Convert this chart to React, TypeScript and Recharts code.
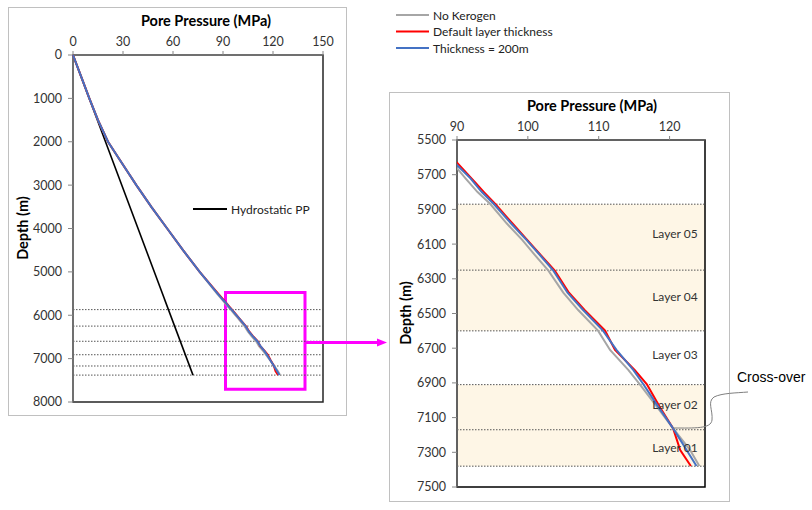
import React from 'react';
import { ScatterChart, Scatter, XAxis, YAxis, ReferenceLine, ReferenceArea, ReferenceDot } from 'recharts';

// shallow part of the pore pressure profile, same for the three cases (depth m / MPa)
const shallowDepth = [0, 500, 1000, 1500, 2000, 2500, 3000, 3500, 4000, 4500, 5000];
const shallowPP = [0, 4.9, 9.8, 15, 21, 29.5, 38, 47, 56.5, 66, 76];

const noKerogenDepth = [5500, 5663, 5721, 5800, 5869, 5980, 6076, 6163, 6253, 6380, 6480, 6599, 6710, 6826, 6908, 7037, 7162, 7287, 7379];
const noKerogenPP = [86.4, 90.0, 91.2, 92.9, 94.7, 97.0, 99.2, 101.0, 102.9, 105.0, 107.1, 109.9, 111.6, 114.2, 115.8, 118.2, 120.5, 122.9, 124.2];

const defaultDepth = [5500, 5631, 5746, 5800, 5869, 5980, 6076, 6163, 6253, 6380, 6480, 6599, 6710, 6826, 6908, 7037, 7162, 7287, 7379];
const defaultPP = [87.1, 90.0, 92.6, 93.8, 95.4, 97.8, 99.9, 101.8, 103.8, 105.8, 108.0, 110.9, 112.3, 115.1, 116.8, 118.6, 120.5, 121.5, 123.0];

const thick200Depth = [5500, 5644, 5721, 5800, 5869, 5980, 6076, 6163, 6253, 6380, 6480, 6599, 6710, 6826, 6908, 7037, 7162, 7287, 7379];
const thick200PP = [86.8, 90.0, 91.9, 93.5, 95.2, 97.6, 99.8, 101.7, 103.6, 105.6, 107.8, 110.6, 112.5, 114.9, 116.3, 118.4, 120.5, 122.4, 123.8];

const hydroDepth = [0, 7380];
const hydroPP = [0, 72];

// layer boundaries and shaded (kerogen) layers
const layerBounds = [5870, 6250, 6600, 6910, 7170, 7380];
const shadedTop = [5870, 6910];
const shadedBase = [6600, 7380];
const layerNames = ['Layer 05', 'Layer 04', 'Layer 03', 'Layer 02', 'Layer 01'];
const layerLabelDepth = [6040, 6405, 6740, 7027, 7273];

const leftPPTicks = [0, 30, 60, 90, 120, 150];
const leftDepthTicks = [0, 1000, 2000, 3000, 4000, 5000, 6000, 7000, 8000];
const rightPPTicks = [90, 100, 110, 120];
const rightDepthTicks = [5500, 5700, 5900, 6100, 6300, 6500, 6700, 6900, 7100, 7300, 7500];

const FONT = 'Lato, "Open Sans", sans-serif';
const GRAY = '#A6A6A6';
const RED = '#FF0000';
const BLUE = '#4472C4';

const pts = (d: number[], p: number[]) => d.map((v, i) => ({ d: v, p: p[i] }));
const full = (d: number[], p: number[]) => pts([...shallowDepth, ...d], [...shallowPP, ...p]);

const noKerogen = full(noKerogenDepth, noKerogenPP);
const defaultLayer = full(defaultDepth, defaultPP);
const thick200 = full(thick200Depth, thick200PP);
const hydro = pts(hydroDepth, hydroPP);

const noShape = () => <g />;
const tickStyle = { fill: '#333', fontSize: 12.5, fontFamily: FONT };

const series = [
  { name: 'No Kerogen', data: noKerogen, color: GRAY },
  { name: 'Default layer thickness', data: defaultLayer, color: RED },
  { name: 'Thickness = 200m', data: thick200, color: BLUE },
];

const dotted = (d: number) => (
  <ReferenceLine key={'l' + d} y={d} stroke="#555" strokeWidth={1} strokeDasharray="1.5 1.5" />
);

function LeftChart() {
  return (
    <ScatterChart width={340} height={410} margin={{ top: 23, right: 25, bottom: 15, left: 15 }}>
      <XAxis type="number" dataKey="p" orientation="top" domain={[0, 150]} ticks={leftPPTicks}
        height={25} tickSize={4} tickMargin={5} stroke="#868686" tick={tickStyle} />
      <YAxis type="number" dataKey="d" reversed domain={[0, 8000]} ticks={leftDepthTicks}
        width={50} tickSize={5} tickMargin={6} stroke="#868686" tick={tickStyle} />
      {layerBounds.map(dotted)}
      <Scatter data={hydro} line={{ stroke: '#000', strokeWidth: 1.6 }} shape={noShape} isAnimationActive={false} />
      {series.map((s) => (
        <Scatter key={s.name} data={s.data} line={{ stroke: s.color, strokeWidth: 2 }} shape={noShape} isAnimationActive={false} />
      ))}
      <ReferenceArea x1={91.5} x2={139.2} y1={5475} y2={7705} fill="none" stroke="#FF00FF" strokeWidth={3} />
      <ReferenceArea x1={0} x2={150} y1={0} y2={8000} fill="none" stroke="#262626" strokeWidth={1.5} />
    </ScatterChart>
  );
}

function RightChart() {
  return (
    <ScatterChart width={342} height={411} margin={{ top: 23, right: 26, bottom: 16, left: 18 }}>
      <XAxis type="number" dataKey="p" orientation="top" domain={[90, 125]} ticks={rightPPTicks} allowDataOverflow
        height={25} tickSize={4} tickMargin={5} stroke="#868686" tick={tickStyle} />
      <YAxis type="number" dataKey="d" reversed domain={[5500, 7500]} ticks={rightDepthTicks} allowDataOverflow
        width={50} tickSize={5} tickMargin={6} stroke="#868686" tick={tickStyle} />
      {shadedTop.map((t, i) => (
        <ReferenceArea key={'a' + i} y1={t} y2={shadedBase[i]} x1={90} x2={125} fill="#FEF6E6" fillOpacity={1} stroke="none" />
      ))}
      {layerBounds.map(dotted)}
      {layerNames.map((n, i) => (
        <ReferenceDot key={n} x={120.75} y={layerLabelDepth[i]} r={0} fill="none" stroke="none"
          label={{ value: n, position: 'center', fill: '#333', fontSize: 12, fontFamily: FONT }} />
      ))}
      {series.map((s) => (
        <Scatter key={s.name} data={s.data} line={{ stroke: s.color, strokeWidth: 2 }} shape={noShape} isAnimationActive={false} />
      ))}
      <ReferenceArea x1={90} x2={125} y1={5500} y2={7500} fill="none" stroke="#000" strokeWidth={1.5} />
    </ScatterChart>
  );
}

export default function App() {
  return (
    <div style={{ position: 'absolute', left: 0, top: 0, width: 812, height: 510, background: '#fff', fontFamily: FONT }}>
      <div style={{ position: 'absolute', left: 8, top: 7, width: 339, height: 409, border: '1px solid #C0C0C0', boxSizing: 'border-box' }} />
      <div style={{ position: 'absolute', left: 389, top: 92, width: 341, height: 410, border: '1px solid #C0C0C0', boxSizing: 'border-box' }} />
      <div style={{ position: 'absolute', left: 8, top: 7 }}>
        <LeftChart />
      </div>
      <div style={{ position: 'absolute', left: 389, top: 92 }}>
        <RightChart />
      </div>
      <svg width={812} height={510} style={{ position: 'absolute', left: 0, top: 0, pointerEvents: 'none' }}>
        <g fontFamily={FONT} fill="#000">
          <text x={206} y={20} textAnchor="middle" dominantBaseline="central" fontSize={14.5} fontWeight="bold">Pore Pressure (MPa)</text>
          <text x={592} y={105} textAnchor="middle" dominantBaseline="central" fontSize={14.5} fontWeight="bold">Pore Pressure (MPa)</text>
          <text transform="translate(22,228) rotate(-90)" textAnchor="middle" dominantBaseline="central" fontSize={14.5} fontWeight="bold">Depth (m)</text>
          <text transform="translate(405,313) rotate(-90)" textAnchor="middle" dominantBaseline="central" fontSize={14.5} fontWeight="bold">Depth (m)</text>
        </g>
        {series.map((s, i) => (
          <g key={s.name}>
            <line x1={396} x2={429} y1={15 + i * 16.5} y2={15 + i * 16.5} stroke={s.color} strokeWidth={2} />
            <text x={433} y={15 + i * 16.5} dominantBaseline="central" fontSize={12} fontFamily={FONT} fill="#222">{s.name}</text>
          </g>
        ))}
        <line x1={193} x2={227} y1={209} y2={209} stroke="#000" strokeWidth={2} />
        <text x={231} y={209} dominantBaseline="central" fontSize={12} fontFamily={FONT} fill="#222">Hydrostatic PP</text>
        <line x1={306} x2={379} y1={342.5} y2={342.5} stroke="#FF00FF" strokeWidth={3} />
        <polygon points="377,338.5 387,342.5 377,346.5" fill="#FF00FF" />
        <path d="M673 428 C 695 428, 711 429, 712 420 C 713 410, 707 402, 714 397 C 722 393, 736 393, 748 392" fill="none" stroke="#7F7F7F" strokeWidth={1} />
        <text x={737} y={377} dominantBaseline="central" fontSize={14} fontFamily='"Liberation Sans", Arial, sans-serif' fill="#000">Cross-over</text>
      </svg>
    </div>
  );
}
